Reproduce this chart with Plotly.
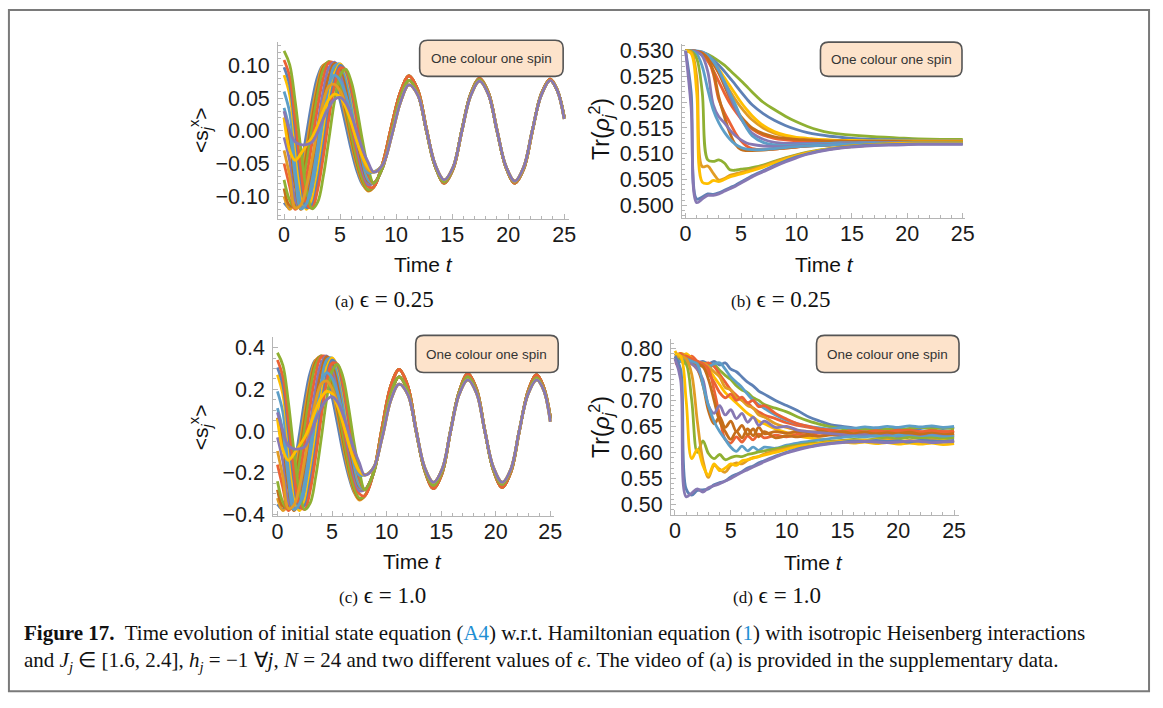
import plotly.graph_objects as go

W, H = 1163, 708

# ---------------- palette (Mathematica default) ----------------
BLUE, ORANGE, GREEN, RED = '#5E81B5', '#E19C24', '#8FB032', '#EB6235'
PURPLE, BROWN, CYAN, YELLOW = '#8778B3', '#C56E1A', '#5D9EC7', '#FFBF00'

# ---------------- panel (a): <s_j^x>, eps = 0.25 ----------------
t_early = [0, 0.5, 1.0, 1.5, 2.0, 2.5, 3.0, 3.5, 4.0, 4.5, 5.0, 5.5, 6.0, 6.5, 7.0, 7.5]
t_late = [8.0, 8.8, 9.6, 10.4, 11.15, 11.95, 12.7, 13.5, 14.3, 15.1, 15.85, 16.65,
          17.45, 18.25, 19.0, 19.8, 20.6, 21.4, 22.15, 22.95, 23.75, 24.4, 25.0]

a_s01 = [-0.110, -0.118, -0.097, -0.056, -0.005, 0.045, 0.083, 0.100, 0.095, 0.076, 0.046, 0.009, -0.029, -0.061, -0.082, -0.090]
a_s02 = [-0.100, -0.120, -0.108, -0.073, -0.024, 0.029, 0.073, 0.100, 0.103, 0.088, 0.060, 0.022, -0.018, -0.054, -0.080, -0.092]
a_s03 = [-0.075, -0.106, -0.118, -0.094, -0.050, 0.004, 0.056, 0.093, 0.106, 0.097, 0.073, 0.037, -0.005, -0.044, -0.074, -0.090]
a_s04 = [-0.050, -0.085, -0.120, -0.107, -0.070, -0.018, 0.036, 0.080, 0.104, 0.103, 0.083, 0.050, 0.009, -0.032, -0.065, -0.085]
a_s05 = [-0.010, -0.046, -0.106, -0.118, -0.093, -0.047, 0.010, 0.061, 0.096, 0.105, 0.091, 0.060, 0.018, -0.025, -0.061, -0.082]
a_s06 = [0.020, -0.015, -0.085, -0.120, -0.106, -0.067, -0.014, 0.041, 0.084, 0.103, 0.097, 0.072, 0.032, -0.012, -0.052, -0.077]
a_s07 = [0.060, 0.028, -0.046, -0.108, -0.118, -0.091, -0.043, 0.015, 0.067, 0.099, 0.102, 0.082, 0.043, -0.003, -0.046, -0.075]
a_s08 = [0.085, 0.055, -0.018, -0.090, -0.120, -0.105, -0.065, -0.009, 0.047, 0.087, 0.102, 0.090, 0.057, 0.011, -0.035, -0.068]
a_s09 = [0.108, 0.083, 0.017, -0.058, -0.111, -0.118, -0.090, -0.040, 0.018, 0.068, 0.096, 0.093, 0.065, 0.020, -0.028, -0.065]
a_s10 = [0.122, 0.101, 0.044, -0.028, -0.090, -0.119, -0.109, -0.070, -0.013, 0.045, 0.084, 0.094, 0.075, 0.034, -0.015, -0.056]
a_s11 = [0.035, 0.001, -0.072, -0.119, -0.111, -0.075, -0.023, 0.031, 0.070, 0.085, 0.077, 0.055, 0.024, -0.011, -0.042, -0.064]
a_s12 = [-0.030, -0.069, -0.118, -0.113, -0.085, -0.043, 0.004, 0.044, 0.068, 0.071, 0.061, 0.040, 0.014, -0.015, -0.041, -0.060]
a_s13 = [0.020, -0.030, -0.045, -0.035, -0.022, -0.010, 0.008, 0.030, 0.048, 0.056, 0.052, 0.036, 0.012, -0.016, -0.040, -0.056]
a_s14 = [0.030, 0.000, -0.017, -0.021, -0.021, -0.017, -0.002, 0.018, 0.036, 0.048, 0.051, 0.043, 0.024, -0.002, -0.028, -0.048]
a_s15 = [-0.088, -0.114, -0.114, -0.084, -0.037, 0.017, 0.065, 0.097, 0.105, 0.093, 0.067, 0.030, -0.012, -0.049, -0.077, -0.091]
a_s16 = [0.097, 0.070, 0.000, -0.074, -0.117, -0.113, -0.078, -0.025, 0.033, 0.078, 0.100, 0.092, 0.061, 0.016, -0.032, -0.067]

a_tail_deep = [-0.086, -0.050, 0.008, 0.060, 0.084, 0.062, 0.004, -0.054, -0.080, -0.058, -0.002, 0.056,
               0.080, 0.058, 0.002, -0.056, -0.080, -0.058, -0.002, 0.056, 0.079, 0.062, 0.022]
a_tail_mid = [-0.080, -0.056, -0.002, 0.052, 0.077, 0.056, 0.000, -0.055, -0.078, -0.056, 0.000, 0.055,
              0.078, 0.056, 0.000, -0.055, -0.078, -0.056, 0.000, 0.055, 0.077, 0.061, 0.020]
a_tail_shallow = [-0.063, -0.052, -0.008, 0.044, 0.070, 0.054, 0.002, -0.052, -0.075, -0.055, -0.002, 0.053,
                  0.076, 0.055, 0.001, -0.054, -0.077, -0.055, 0.000, 0.054, 0.077, 0.061, 0.018]

# ---------------- panel (c): <s_j^x>, eps = 1.0 ----------------
c_s01 = [-0.35, -0.375, -0.31, -0.18, -0.02, 0.15, 0.28, 0.34, 0.33, 0.27, 0.165, 0.035, -0.10, -0.21, -0.29, -0.325]
c_s02 = [-0.32, -0.38, -0.345, -0.235, -0.08, 0.095, 0.245, 0.34, 0.355, 0.305, 0.21, 0.08, -0.06, -0.19, -0.285, -0.33]
c_s03 = [-0.24, -0.34, -0.375, -0.30, -0.16, 0.015, 0.19, 0.315, 0.36, 0.335, 0.255, 0.13, -0.015, -0.155, -0.265, -0.32]
c_s04 = [-0.16, -0.27, -0.38, -0.34, -0.225, -0.06, 0.12, 0.27, 0.355, 0.355, 0.29, 0.175, 0.03, -0.11, -0.23, -0.30]
c_s05 = [-0.03, -0.145, -0.335, -0.375, -0.30, -0.15, 0.035, 0.205, 0.325, 0.36, 0.315, 0.21, 0.065, -0.085, -0.21, -0.285]
c_s06 = [0.065, -0.05, -0.27, -0.38, -0.34, -0.215, -0.045, 0.14, 0.285, 0.355, 0.335, 0.25, 0.11, -0.04, -0.18, -0.265]
c_s07 = [0.19, 0.09, -0.145, -0.34, -0.375, -0.29, -0.135, 0.05, 0.225, 0.34, 0.35, 0.28, 0.15, -0.01, -0.16, -0.26]
c_s08 = [0.27, 0.175, -0.055, -0.285, -0.38, -0.335, -0.205, -0.03, 0.16, 0.30, 0.35, 0.31, 0.195, 0.04, -0.12, -0.235]
c_s09 = [0.34, 0.26, 0.055, -0.185, -0.35, -0.375, -0.285, -0.125, 0.06, 0.23, 0.325, 0.32, 0.225, 0.07, -0.095, -0.22]
c_s10 = [0.375, 0.315, 0.14, -0.09, -0.285, -0.375, -0.345, -0.22, -0.04, 0.15, 0.285, 0.32, 0.26, 0.12, -0.05, -0.19]
c_s11 = [0.11, 0.0, -0.23, -0.375, -0.35, -0.24, -0.075, 0.10, 0.23, 0.28, 0.255, 0.185, 0.08, -0.035, -0.14, -0.21]
c_s12 = [-0.095, -0.22, -0.37, -0.355, -0.27, -0.135, 0.015, 0.145, 0.225, 0.24, 0.205, 0.135, 0.045, -0.05, -0.135, -0.195]
c_s13 = [0.06, -0.09, -0.14, -0.11, -0.07, -0.03, 0.03, 0.10, 0.16, 0.19, 0.18, 0.12, 0.04, -0.055, -0.135, -0.19]
c_s14 = [0.09, 0.0, -0.07, -0.085, -0.085, -0.075, -0.02, 0.05, 0.11, 0.15, 0.165, 0.14, 0.08, 0.0, -0.085, -0.15]
c_s15 = [-0.28, -0.36, -0.36, -0.27, -0.12, 0.055, 0.22, 0.33, 0.36, 0.32, 0.235, 0.105, -0.04, -0.17, -0.275, -0.325]
c_s16 = [0.305, 0.22, 0.0, -0.235, -0.365, -0.355, -0.245, -0.08, 0.11, 0.265, 0.34, 0.315, 0.21, 0.055, -0.11, -0.23]

c_tail_deep = [-0.31, -0.20, 0.02, 0.22, 0.295, 0.215, 0.01, -0.19, -0.275, -0.20, -0.005, 0.19,
               0.275, 0.20, 0.005, -0.19, -0.27, -0.195, -0.005, 0.19, 0.27, 0.21, 0.07]
c_tail_mid = [-0.28, -0.20, -0.01, 0.18, 0.26, 0.19, 0.0, -0.185, -0.26, -0.19, 0.0, 0.185,
              0.26, 0.19, 0.0, -0.185, -0.255, -0.185, 0.0, 0.18, 0.255, 0.20, 0.06]
c_tail_shallow = [-0.21, -0.175, -0.03, 0.15, 0.225, 0.175, 0.005, -0.175, -0.245, -0.18, -0.005, 0.175,
                  0.245, 0.18, 0.0, -0.175, -0.245, -0.18, 0.0, 0.175, 0.245, 0.195, 0.045]

# ---------------- panel (b): Tr(rho_j^2), eps = 0.25 ----------------
t_b = [0, 0.5, 1, 1.5, 2, 2.5, 3, 3.5, 4, 4.5, 5, 5.5, 6, 7, 8, 9, 10, 11, 12, 13, 14, 15, 17, 19, 21, 23, 25]
b01 = [0.5300, 0.5190, 0.5005, 0.5012, 0.5019, 0.5019, 0.5022, 0.5027, 0.5032, 0.5037, 0.5043, 0.5049, 0.5055, 0.5065, 0.5075, 0.5084, 0.5092, 0.5099, 0.5104, 0.5108, 0.5111, 0.5113, 0.5116, 0.5117, 0.5118, 0.5118, 0.5118]
b02 = [0.5300, 0.5220, 0.5012, 0.5016, 0.5022, 0.5021, 0.5024, 0.5029, 0.5034, 0.5039, 0.5045, 0.5051, 0.5057, 0.5067, 0.5077, 0.5086, 0.5094, 0.5100, 0.5105, 0.5109, 0.5112, 0.5114, 0.5117, 0.5118, 0.5119, 0.5119, 0.5119]
b03 = [0.5300, 0.5295, 0.5220, 0.5045, 0.5042, 0.5048, 0.5046, 0.5050, 0.5055, 0.5058, 0.5061, 0.5064, 0.5067, 0.5074, 0.5082, 0.5089, 0.5096, 0.5101, 0.5106, 0.5109, 0.5112, 0.5114, 0.5117, 0.5119, 0.5120, 0.5120, 0.5120]
b04 = [0.5300, 0.5298, 0.5250, 0.5075, 0.5076, 0.5062, 0.5049, 0.5052, 0.5058, 0.5061, 0.5064, 0.5066, 0.5069, 0.5076, 0.5084, 0.5091, 0.5097, 0.5102, 0.5106, 0.5110, 0.5113, 0.5115, 0.5118, 0.5120, 0.5121, 0.5121, 0.5121]
b05 = [0.5300, 0.5299, 0.5285, 0.5220, 0.5088, 0.5085, 0.5088, 0.5082, 0.5069, 0.5068, 0.5070, 0.5071, 0.5073, 0.5078, 0.5085, 0.5092, 0.5098, 0.5103, 0.5107, 0.5110, 0.5113, 0.5115, 0.5118, 0.5120, 0.5121, 0.5121, 0.5122]
b06 = [0.5300, 0.5300, 0.5294, 0.5270, 0.5225, 0.5185, 0.5160, 0.5142, 0.5128, 0.5118, 0.5112, 0.5109, 0.5108, 0.5108, 0.5110, 0.5112, 0.5114, 0.5115, 0.5116, 0.5117, 0.5118, 0.5119, 0.5120, 0.5121, 0.5121, 0.5121, 0.5121]
b07 = [0.5300, 0.5300, 0.5298, 0.5290, 0.5260, 0.5195, 0.5172, 0.5160, 0.5146, 0.5135, 0.5127, 0.5121, 0.5118, 0.5115, 0.5114, 0.5114, 0.5115, 0.5116, 0.5117, 0.5118, 0.5119, 0.5120, 0.5121, 0.5121, 0.5121, 0.5121, 0.5121]
b08 = [0.5300, 0.5300, 0.5299, 0.5295, 0.5285, 0.5260, 0.5210, 0.5172, 0.5140, 0.5118, 0.5108, 0.5106, 0.5106, 0.5107, 0.5109, 0.5111, 0.5113, 0.5115, 0.5116, 0.5117, 0.5118, 0.5119, 0.5120, 0.5121, 0.5121, 0.5122, 0.5122]
b09 = [0.5300, 0.5300, 0.5299, 0.5296, 0.5285, 0.5255, 0.5205, 0.5180, 0.5160, 0.5140, 0.5125, 0.5115, 0.5110, 0.5108, 0.5109, 0.5111, 0.5113, 0.5115, 0.5116, 0.5117, 0.5118, 0.5119, 0.5120, 0.5121, 0.5121, 0.5121, 0.5121]
b10 = [0.5300, 0.5300, 0.5300, 0.5298, 0.5292, 0.5280, 0.5262, 0.5240, 0.5218, 0.5195, 0.5170, 0.5150, 0.5135, 0.5122, 0.5117, 0.5116, 0.5117, 0.5118, 0.5119, 0.5120, 0.5121, 0.5121, 0.5122, 0.5122, 0.5122, 0.5122, 0.5122]
b11 = [0.5300, 0.5300, 0.5299, 0.5297, 0.5293, 0.5287, 0.5280, 0.5272, 0.5262, 0.5252, 0.5242, 0.5231, 0.5220, 0.5200, 0.5186, 0.5173, 0.5162, 0.5153, 0.5146, 0.5141, 0.5138, 0.5136, 0.5133, 0.5131, 0.5129, 0.5128, 0.5128]
b12 = [0.5300, 0.5300, 0.5299, 0.5296, 0.5290, 0.5282, 0.5272, 0.5260, 0.5247, 0.5234, 0.5220, 0.5207, 0.5195, 0.5178, 0.5165, 0.5155, 0.5147, 0.5141, 0.5137, 0.5134, 0.5132, 0.5130, 0.5128, 0.5127, 0.5126, 0.5126, 0.5126]
b13 = [0.5300, 0.5300, 0.5298, 0.5294, 0.5286, 0.5274, 0.5258, 0.5240, 0.5222, 0.5205, 0.5190, 0.5177, 0.5166, 0.5150, 0.5140, 0.5134, 0.5130, 0.5128, 0.5127, 0.5126, 0.5125, 0.5125, 0.5124, 0.5124, 0.5124, 0.5124, 0.5124]
b14 = [0.5300, 0.5300, 0.5298, 0.5292, 0.5280, 0.5262, 0.5240, 0.5218, 0.5198, 0.5182, 0.5168, 0.5157, 0.5148, 0.5136, 0.5130, 0.5127, 0.5125, 0.5124, 0.5124, 0.5124, 0.5124, 0.5124, 0.5124, 0.5124, 0.5124, 0.5124, 0.5124]
b15 = [0.5300, 0.5300, 0.5299, 0.5296, 0.5289, 0.5278, 0.5264, 0.5248, 0.5232, 0.5216, 0.5200, 0.5186, 0.5174, 0.5155, 0.5143, 0.5136, 0.5132, 0.5130, 0.5128, 0.5127, 0.5126, 0.5126, 0.5125, 0.5125, 0.5125, 0.5125, 0.5125]
b16 = [0.5300, 0.5300, 0.5299, 0.5297, 0.5291, 0.5280, 0.5262, 0.5238, 0.5212, 0.5188, 0.5168, 0.5152, 0.5140, 0.5128, 0.5122, 0.5120, 0.5120, 0.5120, 0.5120, 0.5120, 0.5121, 0.5121, 0.5121, 0.5121, 0.5121, 0.5121, 0.5121]
b17 = [0.5300, 0.5300, 0.5299, 0.5296, 0.5288, 0.5275, 0.5256, 0.5232, 0.5208, 0.5188, 0.5172, 0.5160, 0.5150, 0.5139, 0.5133, 0.5130, 0.5128, 0.5127, 0.5126, 0.5125, 0.5125, 0.5124, 0.5124, 0.5124, 0.5123, 0.5123, 0.5123]

# ---------------- panel (d): Tr(rho_j^2), eps = 1.0 ----------------
t_d = [0, 0.5, 1.0, 1.5, 2.0, 2.5, 3.0, 3.5, 4.0, 4.5, 5.0, 5.5, 6.0, 6.5, 7.0, 7.5, 8.0,
       9, 10, 11, 12, 13, 14, 15, 16, 17, 18, 19, 20, 21, 22, 23, 24, 25]
d01 = [0.780, 0.740, 0.515, 0.522, 0.530, 0.524, 0.532, 0.536, 0.540, 0.545, 0.550, 0.556, 0.562, 0.567, 0.572, 0.577, 0.582, 0.591, 0.599, 0.605, 0.610, 0.614, 0.617, 0.619, 0.620, 0.621, 0.620, 0.619, 0.620, 0.622, 0.621, 0.619, 0.620, 0.621]
d02 = [0.785, 0.760, 0.530, 0.518, 0.527, 0.528, 0.530, 0.538, 0.542, 0.545, 0.553, 0.558, 0.563, 0.570, 0.574, 0.580, 0.584, 0.593, 0.600, 0.607, 0.611, 0.615, 0.618, 0.620, 0.622, 0.621, 0.623, 0.621, 0.622, 0.620, 0.623, 0.622, 0.621, 0.623]
d03 = [0.790, 0.785, 0.700, 0.588, 0.606, 0.575, 0.556, 0.578, 0.565, 0.570, 0.578, 0.575, 0.584, 0.586, 0.589, 0.592, 0.595, 0.600, 0.606, 0.611, 0.614, 0.617, 0.619, 0.621, 0.623, 0.622, 0.624, 0.622, 0.620, 0.623, 0.621, 0.619, 0.622, 0.620]
d04 = [0.780, 0.785, 0.780, 0.750, 0.660, 0.585, 0.552, 0.575, 0.568, 0.562, 0.575, 0.580, 0.578, 0.585, 0.590, 0.592, 0.597, 0.603, 0.608, 0.612, 0.615, 0.618, 0.620, 0.622, 0.621, 0.623, 0.621, 0.624, 0.622, 0.620, 0.622, 0.624, 0.621, 0.622]
d05 = [0.785, 0.780, 0.770, 0.700, 0.600, 0.622, 0.598, 0.588, 0.596, 0.586, 0.590, 0.593, 0.592, 0.596, 0.598, 0.601, 0.603, 0.607, 0.611, 0.614, 0.617, 0.619, 0.621, 0.623, 0.625, 0.624, 0.626, 0.628, 0.626, 0.629, 0.627, 0.628, 0.626, 0.628]
d06 = [0.790, 0.785, 0.780, 0.775, 0.770, 0.730, 0.690, 0.660, 0.640, 0.625, 0.610, 0.602, 0.612, 0.603, 0.610, 0.604, 0.610, 0.608, 0.614, 0.618, 0.621, 0.624, 0.627, 0.629, 0.631, 0.630, 0.632, 0.630, 0.633, 0.631, 0.629, 0.632, 0.630, 0.631]
d07 = [0.775, 0.780, 0.775, 0.770, 0.760, 0.740, 0.690, 0.675, 0.690, 0.672, 0.682, 0.665, 0.675, 0.658, 0.668, 0.652, 0.660, 0.648, 0.650, 0.643, 0.640, 0.638, 0.636, 0.634, 0.632, 0.634, 0.631, 0.633, 0.630, 0.632, 0.630, 0.633, 0.631, 0.630]
d08 = [0.790, 0.785, 0.780, 0.775, 0.770, 0.765, 0.740, 0.700, 0.660, 0.640, 0.625, 0.640, 0.628, 0.645, 0.632, 0.648, 0.636, 0.640, 0.637, 0.640, 0.638, 0.641, 0.637, 0.640, 0.636, 0.639, 0.635, 0.638, 0.636, 0.639, 0.635, 0.637, 0.634, 0.636]
d09 = [0.785, 0.780, 0.785, 0.780, 0.775, 0.770, 0.760, 0.720, 0.670, 0.625, 0.618, 0.630, 0.620, 0.632, 0.624, 0.635, 0.628, 0.633, 0.630, 0.635, 0.633, 0.637, 0.634, 0.638, 0.635, 0.639, 0.636, 0.640, 0.637, 0.635, 0.639, 0.636, 0.640, 0.638]
d10 = [0.775, 0.790, 0.785, 0.775, 0.770, 0.772, 0.765, 0.755, 0.745, 0.725, 0.720, 0.705, 0.700, 0.690, 0.685, 0.672, 0.668, 0.655, 0.648, 0.642, 0.640, 0.637, 0.636, 0.634, 0.636, 0.633, 0.635, 0.632, 0.634, 0.631, 0.633, 0.630, 0.632, 0.630]
d11 = [0.790, 0.785, 0.780, 0.775, 0.772, 0.775, 0.770, 0.775, 0.768, 0.772, 0.760, 0.755, 0.745, 0.735, 0.728, 0.718, 0.712, 0.700, 0.690, 0.680, 0.668, 0.660, 0.653, 0.650, 0.647, 0.645, 0.647, 0.644, 0.646, 0.643, 0.646, 0.648, 0.646, 0.648]
d12 = [0.780, 0.790, 0.782, 0.775, 0.765, 0.770, 0.762, 0.768, 0.758, 0.748, 0.740, 0.728, 0.720, 0.715, 0.705, 0.700, 0.692, 0.685, 0.678, 0.668, 0.660, 0.654, 0.649, 0.646, 0.643, 0.645, 0.642, 0.645, 0.643, 0.646, 0.648, 0.645, 0.647, 0.645]
d13 = [0.770, 0.775, 0.780, 0.785, 0.775, 0.770, 0.772, 0.765, 0.750, 0.735, 0.720, 0.710, 0.700, 0.695, 0.685, 0.678, 0.672, 0.665, 0.657, 0.652, 0.648, 0.645, 0.642, 0.640, 0.642, 0.639, 0.641, 0.638, 0.641, 0.643, 0.640, 0.642, 0.639, 0.641]
d14 = [0.795, 0.780, 0.790, 0.780, 0.770, 0.765, 0.760, 0.745, 0.730, 0.715, 0.705, 0.695, 0.685, 0.675, 0.668, 0.660, 0.655, 0.645, 0.638, 0.632, 0.628, 0.625, 0.622, 0.620, 0.618, 0.620, 0.617, 0.619, 0.616, 0.618, 0.616, 0.618, 0.615, 0.617]
d15 = [0.780, 0.775, 0.770, 0.772, 0.765, 0.770, 0.765, 0.770, 0.772, 0.760, 0.745, 0.735, 0.725, 0.712, 0.700, 0.692, 0.685, 0.672, 0.662, 0.655, 0.650, 0.647, 0.645, 0.648, 0.646, 0.649, 0.647, 0.650, 0.648, 0.651, 0.649, 0.651, 0.648, 0.650]
d16 = [0.785, 0.790, 0.780, 0.775, 0.770, 0.765, 0.752, 0.735, 0.715, 0.705, 0.712, 0.700, 0.706, 0.695, 0.700, 0.688, 0.690, 0.675, 0.664, 0.655, 0.650, 0.645, 0.643, 0.640, 0.642, 0.639, 0.642, 0.640, 0.643, 0.641, 0.639, 0.642, 0.640, 0.641]
d17 = [0.780, 0.785, 0.775, 0.770, 0.760, 0.730, 0.680, 0.655, 0.668, 0.648, 0.660, 0.640, 0.652, 0.634, 0.645, 0.630, 0.640, 0.628, 0.632, 0.630, 0.633, 0.631, 0.634, 0.632, 0.635, 0.633, 0.636, 0.634, 0.632, 0.635, 0.633, 0.636, 0.634, 0.635]

# ---------------- text ----------------
x_title = 'Time <i>t</i>'
sx_title = '&lt;s<sub><i>j</i></sub><sup>x</sup>&gt;'
pur_title = 'Tr(<i>ρ</i><sub><i>j</i></sub><sup>2</sup>)'
legend_text = 'One colour one spin'
sub_captions = ['(a)', '(b)', '(c)', '(d)']
sub_eps = ['ϵ = 0.25', 'ϵ = 0.25', 'ϵ = 1.0', 'ϵ = 1.0']
LINK = '#1f8fd3'
caption_line1 = ("<b>Figure 17.</b>&nbsp; Time evolution of initial state equation (<span style='color:%s'>A4</span>) "
                 "w.r.t. Hamiltonian equation (<span style='color:%s'>1</span>) with isotropic Heisenberg interactions"
                 % (LINK, LINK))
caption_line2 = ("and <i>J</i><sub><i>j</i></sub> ∈ [1.6, 2.4], <i>h</i><sub><i>j</i></sub> = −1 ∀<i>j</i>, "
                 "<i>N</i> = 24 and two different values of <i>ϵ</i>. "
                 "The video of (a) is provided in the supplementary data.")

# ---------------- build ----------------
a_curves = [(a_s01, a_tail_deep, BLUE), (a_s02, a_tail_deep, ORANGE), (a_s15, a_tail_deep, BROWN),
            (a_s03, a_tail_deep, GREEN), (a_s04, a_tail_deep, RED), (a_s05, a_tail_mid, PURPLE),
            (a_s06, a_tail_mid, BROWN), (a_s07, a_tail_mid, CYAN), (a_s08, a_tail_mid, YELLOW),
            (a_s16, a_tail_mid, BLUE), (a_s09, a_tail_mid, RED), (a_s10, a_tail_mid, GREEN),
            (a_s11, a_tail_shallow, CYAN), (a_s12, a_tail_shallow, ORANGE),
            (a_s13, a_tail_shallow, YELLOW), (a_s14, a_tail_shallow, PURPLE)]
c_curves = [(c_s01, c_tail_deep, BLUE), (c_s02, c_tail_deep, ORANGE), (c_s15, c_tail_deep, BROWN),
            (c_s03, c_tail_deep, GREEN), (c_s04, c_tail_deep, RED), (c_s05, c_tail_mid, PURPLE),
            (c_s06, c_tail_mid, BROWN), (c_s07, c_tail_mid, CYAN), (c_s08, c_tail_mid, YELLOW),
            (c_s16, c_tail_mid, BLUE), (c_s09, c_tail_mid, RED), (c_s10, c_tail_mid, GREEN),
            (c_s11, c_tail_shallow, CYAN), (c_s12, c_tail_shallow, ORANGE),
            (c_s13, c_tail_shallow, YELLOW), (c_s14, c_tail_shallow, PURPLE)]
b_curves = [(b11, GREEN), (b12, BLUE), (b13, ORANGE), (b14, RED), (b15, YELLOW), (b17, BROWN),
            (b16, PURPLE), (b10, CYAN), (b09, RED), (b08, BROWN), (b07, PURPLE), (b06, CYAN),
            (b05, GREEN), (b04, ORANGE), (b03, YELLOW), (b02, BLUE), (b01, PURPLE)]
d_curves = [(d11, BLUE), (d12, GREEN), (d13, RED), (d14, YELLOW), (d15, CYAN), (d10, ORANGE),
            (d16, RED), (d09, RED), (d17, BROWN), (d08, BROWN), (d07, PURPLE), (d06, CYAN),
            (d05, GREEN), (d04, ORANGE), (d03, YELLOW), (d02, BLUE), (d01, PURPLE)]

for e, tl, _ in a_curves + c_curves:
    assert len(e) == len(t_early) and len(tl) == len(t_late)
for v, _ in b_curves:
    assert len(v) == len(t_b)
for v, _ in d_curves:
    assert len(v) == len(t_d)

fig = go.Figure()
LW = 2.8


def add_line(x, y, color, n):
    fig.add_trace(go.Scatter(x=x, y=y, mode='lines',
                             line=dict(color=color, width=LW, shape='spline', smoothing=1.0),
                             xaxis='x' + n, yaxis='y' + n, showlegend=False, hoverinfo='skip'))


for e, tl, col in a_curves:
    add_line(t_early + t_late, e + tl, col, '')
for v, col in b_curves:
    add_line(t_b, v, col, '2')
for e, tl, col in c_curves:
    add_line(t_early + t_late, e + tl, col, '3')
for v, col in d_curves:
    add_line(t_d, v, col, '4')


def px(x):
    return x / W


def py(y):
    return 1 - y / H


AX_COL = '#b5b5b5'
SANS = 'Liberation Sans, Arial, sans-serif'
SERIF = 'Liberation Serif, Times New Roman, serif'
TICK_FONT = dict(family=SANS, size=21.5, color='#1a1a1a')

# frame pixel boxes: x0, x1, ytop, ybot ; ranges
panels = [
    ('', (279, 573, 38, 219), [-0.53, 25.44], [-0.1348, 0.1354], 0.05, '.2f', 0.01),
    ('2', (687, 973, 40, 218), [-0.33, 25.2], [0.4975, 0.5313], 0.005, '.3f', 0.001),
    ('3', (274, 558, 340, 523), [-0.39, 25.36], [-0.407, 0.449], 0.2, '.1f', 0.05),
    ('4', (676, 967, 342, 522), [-0.355, 25.44], [0.4794, 0.8174], 0.05, '.2f', 0.01),
]
layout = {}
for n, (x0, x1, yt, yb), xr, yr, ydt, yfmt, ymin in panels:
    layout['xaxis' + n] = dict(domain=[px(x0), px(x1)], range=xr, anchor='y' + n, showgrid=False, zeroline=False,
                               showline=True, linecolor=AX_COL, linewidth=1, ticks='inside', ticklen=5,
                               tickcolor=AX_COL, tickwidth=1, tick0=0, dtick=5, tickfont=TICK_FONT,
                               ticklabelstandoff=-4,
                               minor=dict(ticks='inside', ticklen=3, tickcolor=AX_COL, dtick=1, tick0=0,
                                          showgrid=False),
                               fixedrange=True)
    layout['yaxis' + n] = dict(domain=[py(yb), py(yt)], range=yr, anchor='x' + n, showgrid=False, zeroline=False,
                               showline=True, linecolor=AX_COL, linewidth=1, ticks='inside', ticklen=5,
                               tickcolor=AX_COL, tickwidth=1, tick0=0, dtick=ydt, tickformat=yfmt,
                               tickfont=TICK_FONT, ticklabelstandoff=3,
                               minor=dict(ticks='inside', ticklen=3, tickcolor=AX_COL, dtick=ymin, tick0=0,
                                          showgrid=False),
                               fixedrange=True)

annotations = []
shapes = []


def ann(text, x, y, size, family=SANS, angle=0, color='#111', xanchor='center', yanchor='middle', align='center'):
    annotations.append(dict(text=text, x=px(x), y=py(y), xref='paper', yref='paper', showarrow=False,
                            xanchor=xanchor, yanchor=yanchor, textangle=angle, align=align,
                            font=dict(family=family, size=size, color=color)))


# axis titles
ann(x_title, 426, 265, 21)
ann(x_title, 831, 265, 21)
ann(x_title, 415, 569, 21)
ann(x_title, 820, 570, 21)
ann(sx_title, 200, 128, 21, angle=-90)
ann(sx_title, 200, 432, 21, angle=-90)
ann(pur_title, 605, 127, 23, angle=-90)
ann(pur_title, 605, 432, 23, angle=-90)

# legend boxes (rounded)
boxes = [(422, 567, 36, 73), (827, 970, 38, 73), (418, 562, 338, 376), (823, 967, 338, 376)]
r = 8
for (bx0, bx1, by0, by1) in boxes:
    path = ('M {a},{b} L {c},{b} Q {d},{b} {d},{e} L {d},{f} Q {d},{g} {c},{g} L {a},{g} Q {h},{g} {h},{f} '
            'L {h},{e} Q {h},{b} {a},{b} Z').format(
        a=px(bx0 + r), b=py(by0), c=px(bx1 - r), d=px(bx1), e=py(by0 + r), f=py(by1 - r), g=py(by1), h=px(bx0))
    shapes.append(dict(type='path', path=path, xref='paper', yref='paper',
                       fillcolor='#FDE3CB', line=dict(color='#555555', width=1.6), layer='above'))
    ann(legend_text, (bx0 + bx1) / 2, (by0 + by1) / 2 + 0.5, 13.5, color='#333')

# sub captions
sub_pos = [(386, 301), (787, 301), (384, 604), (783, 604)]
for (sx, sy), lab, eps in zip(sub_pos, sub_captions, sub_eps):
    ann("<span style='font-size:17px'>%s</span> %s" % (lab, eps), sx, sy, 23, family=SERIF)

# caption (one text block, two lines)
ann(caption_line1 + '<br>' + caption_line2, 20, 658, 21, family=SERIF, xanchor='left', align='left', color='#111')

# outer frame
shapes.append(dict(type='rect', xref='paper', yref='paper', x0=px(7), x1=px(1159), y0=py(702), y1=py(5),
                   line=dict(color='#7a7a7a', width=2), fillcolor='rgba(0,0,0,0)', layer='above'))

fig.update_layout(width=W, height=H, margin=dict(l=0, r=0, t=0, b=0), paper_bgcolor='white',
                  plot_bgcolor='white', showlegend=False, annotations=annotations, shapes=shapes, **layout)

fig.write_html('out.html', config={'displayModeBar': False},
               post_script="document.body.style.margin='0';document.body.style.overflow='hidden';")
